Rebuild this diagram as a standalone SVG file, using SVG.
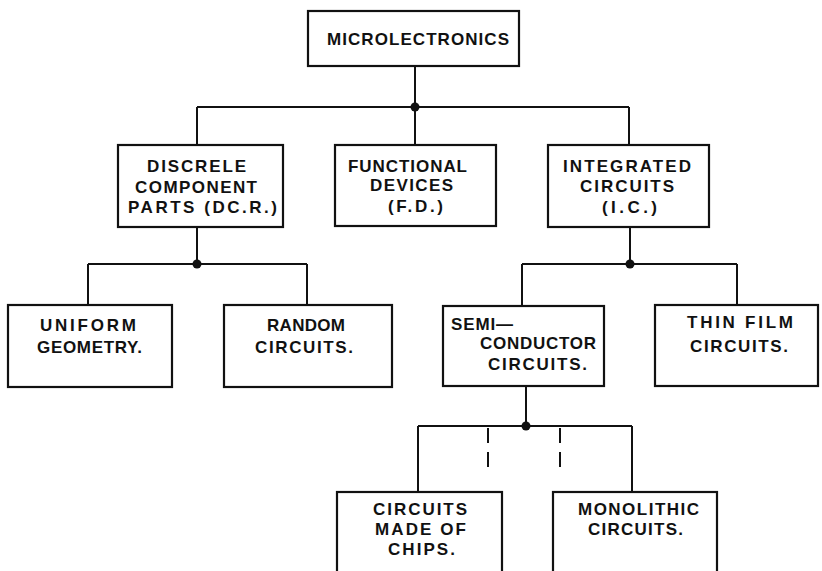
<svg xmlns="http://www.w3.org/2000/svg" width="822" height="571" viewBox="0 0 822 571">
<style>
rect.box{fill:#fff;stroke:#111;stroke-width:2.2}
.c line,.c path{stroke:#111;stroke-width:2;fill:none}
.dot{fill:#111}
text{font-family:"Liberation Sans",Arial,sans-serif;font-weight:bold;font-size:17px;fill:#111}
.dash{stroke-dasharray:15 9}
</style>
<rect width="822" height="571" fill="#fff"/>
<g class="c" id="connectors">
<line x1="415" y1="66" x2="415" y2="145"/>
<line x1="197" y1="107" x2="629" y2="107"/>
<line x1="197" y1="107" x2="197" y2="145"/>
<line x1="629" y1="107" x2="629" y2="145"/>
<line x1="197" y1="227" x2="197" y2="264"/>
<line x1="88" y1="264" x2="307" y2="264"/>
<line x1="88" y1="264" x2="88" y2="305"/>
<line x1="307" y1="264" x2="307" y2="305"/>
<line x1="630" y1="227" x2="630" y2="264"/>
<line x1="522" y1="264" x2="737" y2="264"/>
<line x1="522" y1="264" x2="522" y2="306"/>
<line x1="737" y1="264" x2="737" y2="305"/>
<line x1="526" y1="386" x2="526" y2="426"/>
<line x1="418" y1="426" x2="632" y2="426"/>
<line x1="418" y1="426" x2="418" y2="492"/>
<line x1="632" y1="426" x2="632" y2="492"/>
<line class="dash" x1="488" y1="428" x2="488" y2="470"/>
<line class="dash" x1="560" y1="428" x2="560" y2="470"/>
<circle class="dot" cx="415" cy="107" r="4.5"/>
<circle class="dot" cx="197" cy="264" r="4.5"/>
<circle class="dot" cx="630" cy="264" r="4.5"/>
<circle class="dot" cx="526" cy="426" r="4.5"/>
</g>
<g id="microelectronics">
<rect class="box" x="308" y="11" width="211" height="55"/>
<text x="327" y="45" textLength="182" lengthAdjust="spacing">MICROLECTRONICS</text>
</g>
<g id="dcp">
<rect class="box" x="118" y="145" width="165" height="82"/>
<text x="147" y="172" textLength="99" lengthAdjust="spacing">DISCRELE</text>
<text x="135" y="193" textLength="122" lengthAdjust="spacing">COMPONENT</text>
<text x="128" y="213" textLength="149" lengthAdjust="spacing">PARTS  (DC.R.)</text>
</g>
<g id="fd">
<rect class="box" x="335" y="145" width="161" height="81"/>
<text x="348" y="172" textLength="119" lengthAdjust="spacing">FUNCTIONAL</text>
<text x="370" y="191" textLength="83" lengthAdjust="spacing">DEVICES</text>
<text x="388" y="212" textLength="55" lengthAdjust="spacing">(F.D.)</text>
</g>
<g id="ic">
<rect class="box" x="548" y="145" width="161" height="82"/>
<text x="563" y="172" textLength="128" lengthAdjust="spacing">INTEGRATED</text>
<text x="580" y="192" textLength="94" lengthAdjust="spacing">CIRCUITS</text>
<text x="602" y="213" textLength="55" lengthAdjust="spacing">(I.C.)</text>
</g>
<g id="uniform">
<rect class="box" x="8" y="305" width="164" height="82"/>
<text x="40" y="331" textLength="96" lengthAdjust="spacing">UNIFORM</text>
<text x="37" y="353" textLength="105" lengthAdjust="spacing">GEOMETRY.</text>
</g>
<g id="random">
<rect class="box" x="224" y="305" width="168" height="82"/>
<text x="267" y="331" textLength="78" lengthAdjust="spacing">RANDOM</text>
<text x="255" y="353" textLength="98" lengthAdjust="spacing">CIRCUITS.</text>
</g>
<g id="semiconductor">
<rect class="box" x="443" y="306" width="161" height="80"/>
<text x="451" y="330" textLength="62" lengthAdjust="spacing">SEMI—</text>
<text x="480" y="349" textLength="116" lengthAdjust="spacing">CONDUCTOR</text>
<text x="488" y="370" textLength="99" lengthAdjust="spacing">CIRCUITS.</text>
</g>
<g id="thinfilm">
<rect class="box" x="655" y="305" width="163" height="81"/>
<text x="687" y="328" textLength="106" lengthAdjust="spacing">THIN FILM</text>
<text x="690" y="352" textLength="98" lengthAdjust="spacing">CIRCUITS.</text>
</g>
<g id="chips">
<rect class="box" x="337" y="492" width="165" height="90"/>
<text x="373" y="515" textLength="94" lengthAdjust="spacing">CIRCUITS</text>
<text x="375" y="535" textLength="91" lengthAdjust="spacing">MADE OF</text>
<text x="388" y="555" textLength="67" lengthAdjust="spacing">CHIPS.</text>
</g>
<g id="monolithic">
<rect class="box" x="553" y="492" width="164" height="90"/>
<text x="578" y="515" textLength="121" lengthAdjust="spacing">MONOLITHIC</text>
<text x="588" y="535" textLength="95" lengthAdjust="spacing">CIRCUITS.</text>
</g>
</svg>
